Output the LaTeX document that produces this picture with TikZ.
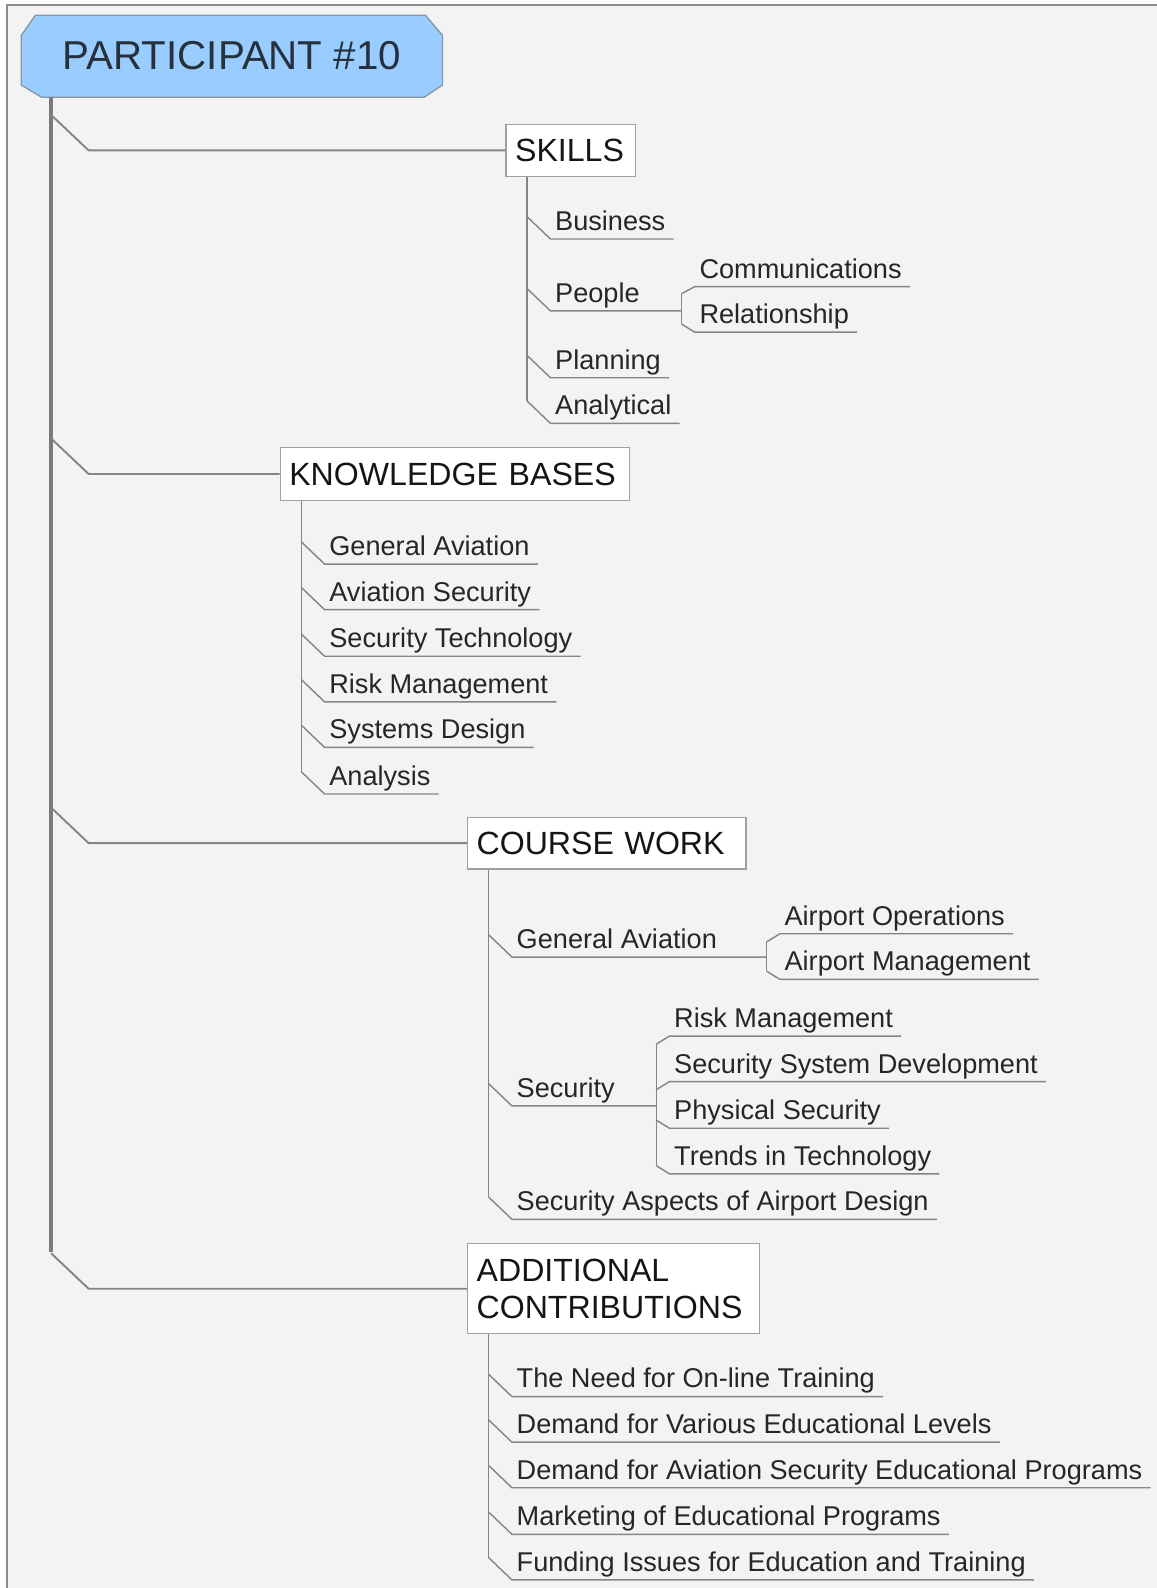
\documentclass[tikz,border=0pt]{standalone}
\usepackage{fontspec}
\setmainfont{Liberation Sans}
\usetikzlibrary{calc}

\definecolor{paper}{HTML}{F3F3F3}
\definecolor{framegray}{HTML}{8C8C8C}
\definecolor{linegray}{HTML}{858585}
\definecolor{trunkgray}{HTML}{7A7A7A}
\definecolor{boxedge}{HTML}{A0A0A0}
\definecolor{rootblue}{HTML}{99CCFF}
\definecolor{rootedge}{HTML}{8696A4}
\definecolor{rootink}{HTML}{26313C}
\definecolor{inkhead}{HTML}{151515}
\definecolor{inkleaf}{HTML}{262626}

\newcommand\leaffont{\fontsize{26.8}{30}\selectfont}
\newcommand\headfont{\fontsize{31.7}{36}\selectfont}
\newcommand\rootfont{\fontsize{39.8}{44}\selectfont}

% a leaf: kink on the parent stem, underline under the text
\newcommand\leaf[4]{%
  \coordinate (#1-y) at (0,#3);
  \coordinate (#1-u) at ($(#2 |- #1-y)+(23,0)$);
  \node[leafnode] (#1) at ($(#1-u)+(4.5,-8.5)$) {#4};
  \draw[twig] ($(#2 |- #1-y)+(0,-22)$) -- (#1-u) -- ($(#1.base east)+(8,8.5)$);
}
% a leaf whose underline runs on to a bracket at x = #4
\newcommand\hubleaf[5]{%
  \coordinate (#1-y) at (0,#3);
  \coordinate (#1-u) at ($(#2 |- #1-y)+(23,0)$);
  \coordinate (#1-h) at (#4,#3);
  \node[leafnode] (#1) at ($(#1-u)+(4.5,-8.5)$) {#5};
  \draw[twig] ($(#2 |- #1-y)+(0,-22)$) -- (#1-u) -- (#1-h);
}
% a leaf hanging off a bracket; #4 is the kink offset on the bracket
\newcommand\subleaf[5]{%
  \coordinate (#1-y) at (0,#3);
  \coordinate (#1-k) at ($(#2 |- #1-y)+(0,#4)$);
  \coordinate (#1-u) at ($(#2 |- #1-y)+(13,0)$);
  \node[leafnode] (#1) at ($(#1-u)+(4.5,-8.5)$) {#5};
  \draw[twig] (#1-k) -- (#1-u) -- ($(#1.base east)+(8,8.5)$);
}

\begin{document}
\begin{tikzpicture}[x=1pt,y=-1pt,
  leafnode/.style={anchor=base west, inner sep=0pt, font=\leaffont, text=inkleaf},
  headbox/.style={anchor=west, draw=boxedge, fill=white, line width=1.3pt,
    align=left, inner xsep=9pt, inner ysep=0pt, font=\headfont, text=inkhead},
  twig/.style={draw=linegray, line width=1.4pt},
  limb/.style={draw=linegray, line width=1.9pt},
  trunk/.style={draw=trunkgray, line width=3.6pt}]

% page and frame
\useasboundingbox (0,0) rectangle (1142,1568);
\fill[white] (0,0) rectangle (1142,1568);
\fill[paper] (7,5) rectangle (1142,1568);
\draw[framegray, line width=1.6pt] (7,1568) -- (7,5) -- (1142,5);

% root
\node[minimum width=418pt, minimum height=83pt, inner sep=0pt,
  font=\rootfont, text=rootink,
  path picture={
    \path[fill=rootblue, draw=rootedge, line width=1.3pt]
      ($(path picture bounding box.north west)+(15,1)$) --
      ($(path picture bounding box.north east)+(-18,1)$) --
      ($(path picture bounding box.north east)+(-1,21)$) --
      ($(path picture bounding box.south east)+(-1,-13)$) --
      ($(path picture bounding box.south east)+(-19,-1)$) --
      ($(path picture bounding box.south west)+(21,-1)$) --
      ($(path picture bounding box.south west)+(1,-13)$) --
      ($(path picture bounding box.north west)+(1,21)$) -- cycle;
  }] (root) at (229,55.5) {\raisebox{1.5pt}{PARTICIPANT \#10}};
\coordinate (trunk) at (50.5,96);

% main headings
\node[headbox, text width=110pt, minimum height=51pt] (skills) at (499,148.5) {SKILLS};
\node[headbox, text width=327pt, minimum height=52pt] (kb) at (276,468) {KNOWLEDGE BASES};
\node[headbox, text width=257pt, minimum height=51pt] (cw) at (461,832.5) {COURSE WORK};
\node[headbox, text width=270pt, minimum height=89pt] (ac) at (461,1272.5) {ADDITIONAL\\CONTRIBUTIONS};

% trunk and limbs
\draw[trunk] (trunk) -- ($(ac.west -| trunk)+(0,-36)$);
\foreach \h in {skills,kb,cw,ac}
  \draw[limb] ($(\h.west -| trunk)+(0,-35)$) -- ++(37,35) -- (\h.west);

% stems under the headings
\coordinate (skills-st) at ($(skills.south west)+(21.5,0)$);
\coordinate (kb-st) at ($(kb.south west)+(21.5,0)$);
\coordinate (cw-st) at ($(cw.south west)+(21.5,0)$);
\coordinate (ac-st) at ($(ac.south west)+(21.5,0)$);

% SKILLS
\leaf{bus}{skills-st}{236}{Business}
\hubleaf{ppl}{skills-st}{307}{673}{People}
\subleaf{comm}{ppl-h}{283}{7}{Communications}
\subleaf{rel}{ppl-h}{328}{-8}{Relationship}
\draw[twig] (comm-k) -- (rel-k);
\leaf{plan}{skills-st}{373}{Planning}
\leaf{anal}{skills-st}{418}{Analytical}
\draw[twig] (skills-st) -- ($(skills-st |- anal-y)+(0,-22)$);

% KNOWLEDGE BASES
\leaf{kga}{kb-st}{557}{General Aviation}
\leaf{kas}{kb-st}{602}{Aviation Security}
\leaf{kst}{kb-st}{648}{Security Technology}
\leaf{krm}{kb-st}{693}{Risk Management}
\leaf{ksd}{kb-st}{738}{Systems Design}
\leaf{kan}{kb-st}{784}{Analysis}
\draw[twig] (kb-st) -- ($(kb-st |- kan-y)+(0,-22)$);

% COURSE WORK
\hubleaf{cga}{cw-st}{945}{757}{General Aviation}
\subleaf{aop}{cga-h}{922}{8}{Airport Operations}
\subleaf{amg}{cga-h}{967}{-8}{Airport Management}
\draw[twig] (aop-k) -- (amg-k);
\hubleaf{csec}{cw-st}{1092}{648}{Security}
\subleaf{crm}{csec-h}{1023}{8}{Risk Management}
\subleaf{cssd}{csec-h}{1068}{8}{Security System Development}
\subleaf{cps}{csec-h}{1114}{-8}{Physical Security}
\subleaf{ctt}{csec-h}{1159}{-8}{Trends in Technology}
\draw[twig] (crm-k) -- (ctt-k);
\leaf{csad}{cw-st}{1204}{Security Aspects of Airport Design}
\draw[twig] (cw-st) -- ($(cw-st |- csad-y)+(0,-22)$);

% ADDITIONAL CONTRIBUTIONS
\leaf{aneed}{ac-st}{1379}{The Need for On-line Training}
\leaf{alev}{ac-st}{1424}{Demand for Various Educational Levels}
\leaf{aprog}{ac-st}{1469}{Demand for Aviation Security Educational Programs}
\leaf{amkt}{ac-st}{1515}{Marketing of Educational Programs}
\leaf{afund}{ac-st}{1560}{Funding Issues for Education and Training}
\draw[twig] (ac-st) -- ($(ac-st |- afund-y)+(0,-22)$);

\end{tikzpicture}
\end{document}
